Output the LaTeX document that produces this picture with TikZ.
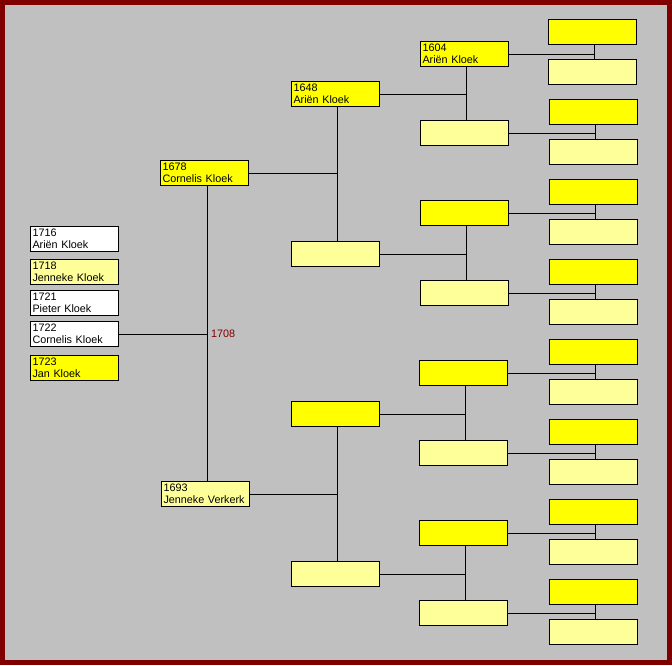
\documentclass[tikz,border=0pt]{standalone}
\usepackage{fontspec}
\setmainfont{Liberation Sans}
\definecolor{frame}{HTML}{800000}
\definecolor{bg}{HTML}{C0C0C0}
\definecolor{yellowA}{HTML}{FFFF00}
\definecolor{yellowB}{HTML}{FFFF99}
\tikzset{
  pbox/.style={draw=black, line width=1pt, minimum width=88pt, minimum height=25pt,
    inner xsep=2pt, inner ysep=0pt, anchor=north west, text width=84pt, align=left,
    font=\fontsize{10.8}{12.3}\selectfont},
  fy/.style={pbox, fill=yellowA},
  fl/.style={pbox, fill=yellowB},
  fw/.style={pbox, fill=white},
  link/.style={line width=1pt, draw=black}
}
\begin{document}
\begin{tikzpicture}[x=1pt,y=-1pt]
\useasboundingbox (0,0) rectangle (672,665);
\fill[frame] (0,0) rectangle (672,665);
\fill[bg] (5,5) rectangle (667,660);
% children
\node[fw] (c1) at (30,226) {1716\\Ariën Kloek};
\node[fl] (c2) at (30,259) {1718\\Jenneke Kloek};
\node[fw] (c3) at (30,290) {1721\\Pieter Kloek};
\node[fw] (c4) at (30,321) {1722\\Cornelis Kloek};
\node[fy] (c5) at (30,355) {1723\\Jan Kloek};
% generation 1
\node[fy] (g11) at (160,160) {1678\\Cornelis Kloek};
\node[fl] (g12) at (161,481) {1693\\Jenneke Verkerk};
% generation 2
\node[fy] (g21) at (291,81) {1648\\Ariën Kloek};
\node[fl] (g22) at (291,241) {};
\node[fy] (g23) at (291,401) {};
\node[fl] (g24) at (291,561) {};
% generation 3
\node[fy] (g31) at (420,41) {1604\\Ariën Kloek};
\node[fl] (g32) at (420,120) {};
\node[fy] (g33) at (420,200) {};
\node[fl] (g34) at (420,280) {};
\node[fy] (g35) at (419,360) {};
\node[fl] (g36) at (419,440) {};
\node[fy] (g37) at (419,520) {};
\node[fl] (g38) at (419,600) {};
% generation 4
\node[fy] (g41) at (548,19) {};
\node[fl] (g42) at (548,59) {};
\foreach \i/\y in {3/99,5/179,7/259,9/339,11/419,13/499,15/579}{
  \node[fy] (g4\i) at (549,\y) {};
}
\foreach \i/\y in {4/139,6/219,8/299,10/379,12/459,14/539,16/619}{
  \node[fl] (g4\i) at (549,\y) {};
}
% connectors: children to parents
\coordinate (j0) at (207.5,333.5);
\draw[link] (c4.east) -- (c4.east -| j0);
\draw[link] (g11.south -| j0) -- (g12.north -| j0);
\node[anchor=west, text=frame, inner sep=0pt, font=\fontsize{10.8}{12.3}\selectfont] (m0) at (211,333.5) {1708};
% generation 1 to 2
\coordinate (j1) at (337.5,0);
\draw[link] (g11.east) -- (g11.east -| j1);
\draw[link] (g21.south -| j1) -- (g22.north -| j1);
\draw[link] (g12.east) -- (g12.east -| j1);
\draw[link] (g23.south -| j1) -- (g24.north -| j1);
% generation 2 to 3
\foreach \k/\a/\b/\x in {1/1/2/466.5, 2/3/4/466.5, 3/5/6/465.5, 4/7/8/465.5}{
  \coordinate (j2\k) at (\x,0);
  \draw[link] (g2\k.east) -- (g2\k.east -| j2\k);
  \draw[link] (g3\a.south -| j2\k) -- (g3\b.north -| j2\k);
}
% generation 3 to 4
\foreach \k/\a/\b/\x in {1/1/2/594.5, 2/3/4/595.5, 3/5/6/595.5, 4/7/8/595.5, 5/9/10/595.5, 6/11/12/595.5, 7/13/14/595.5, 8/15/16/595.5}{
  \coordinate (j3\k) at (\x,0);
  \draw[link] (g3\k.east) -- (g3\k.east -| j3\k);
  \draw[link] (g4\a.south -| j3\k) -- (g4\b.north -| j3\k);
}
\end{tikzpicture}
\end{document}
